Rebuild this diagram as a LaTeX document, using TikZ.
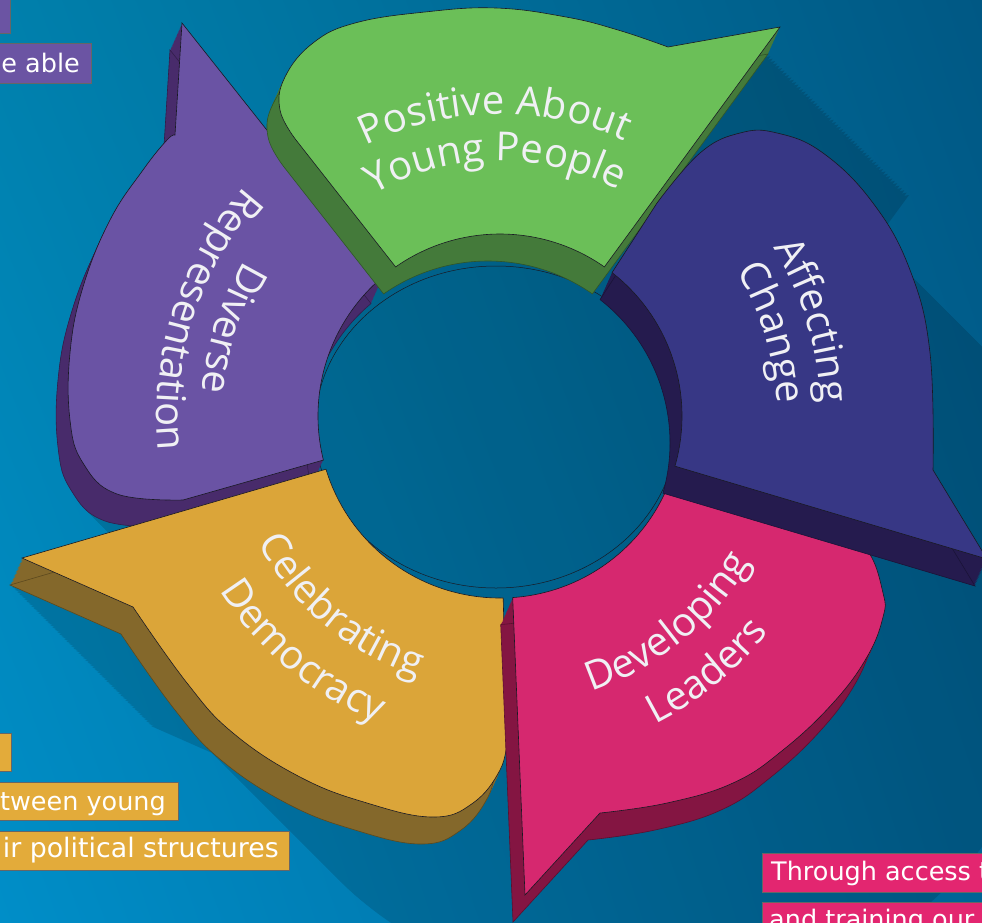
\documentclass[tikz,border=0pt]{standalone}
\usepackage{fontspec}
\setmainfont{Open Sans}
\newfontfamily\boxfont{DejaVu Sans}
\usetikzlibrary{decorations.text,shadings}
\definecolor{bgUL}{RGB}{0,128,172}
\definecolor{bgUR}{RGB}{0,88,132}
\definecolor{bgLL}{RGB}{0,142,200}
\definecolor{bgLR}{RGB}{0,100,150}
\definecolor{purpleF}{RGB}{106,83,164}
\definecolor{purpleD}{RGB}{72,43,107}
\definecolor{greenF}{RGB}{107,191,88}
\definecolor{greenD}{RGB}{68,122,58}
\definecolor{blueF}{RGB}{55,55,133}
\definecolor{blueD}{RGB}{37,27,78}
\definecolor{pinkF}{RGB}{214,40,111}
\definecolor{pinkD}{RGB}{132,21,66}
\definecolor{orangeF}{RGB}{219,165,57}
\definecolor{orangeD}{RGB}{132,104,43}
\definecolor{boxpurple}{RGB}{107,84,163}
\definecolor{boxorange}{RGB}{227,171,58}
\definecolor{boxpink}{RGB}{227,38,112}
\definecolor{labelwhite}{RGB}{240,240,244}
\definecolor{edge}{RGB}{25,25,35}
\newcommand\arcfont{\fontsize{40}{40}\selectfont\color{labelwhite}}
\tikzset{
  arctext/.style={decorate,decoration={text along path,text align=center,text={|\arcfont|#1}}},
  outline/.style={draw=edge,line width=0.6pt},
  boxframe/.style={draw=black!60,line width=0.7pt},
  boxtext/.style={font=\boxfont\fontsize{25.5}{30}\selectfont,text=white,inner sep=0pt},
}
\def\purplepath{([shift={(500,416)}]-130:182) arc[start angle=-130,end angle=-194,radius=182] -- (183,500) -- plot[smooth,tension=0.7] coordinates {(183,500) (117,494) (83,463) (70,420) (70,353) (83,287) (110,220) (143,170) (167,140) (175,135)} -- (182,23) -- cycle}
\def\greenpath{([shift={(500,416)}]-125:182) arc[start angle=-125,end angle=-55,radius=182] -- (780,27) -- (668,47) -- plot[smooth,tension=0.7] coordinates {(668,47) (618,30) (566,17) (496,8) (425,12) (355,23) (313,43) (285,77) (280,110) (296,140)} -- cycle}
\def\bluepath{([shift={(500,416)}]-52:182) arc[start angle=-52,end angle=16,radius=182] -- (987,559) -- (933,470) -- plot[smooth,tension=0.7] coordinates {(933,470) (930,353) (910,270) (873,203) (823,153) (777,133) (740,133) (700,153) (657,203)} -- cycle}
\def\pinkpath{([shift={(500,416)}]86:182) arc[start angle=86,end angle=20,radius=182] -- (833,527) -- plot[smooth,tension=0.7] coordinates {(833,527) (867,550) (883,593) (883,617) (867,657) (833,703) (783,750) (733,783) (667,803) (600,813)} -- (525,895) -- cycle}
\def\orangepath{([shift={(500,416)}]163:182) arc[start angle=163,end angle=89,radius=182] -- (507,740) -- plot[smooth,tension=0.7] coordinates {(507,740) (500,770) (473,803) (433,817) (367,803) (300,777) (233,733) (187,683) (133,607)} -- (22,558) -- cycle}
\def\holedisc{(500,416) circle[radius=192]}
\def\gapfill{(665,468) -- (987,552) -- (987,580) -- (833,540) -- (665,500) -- cycle}
\newcommand\drawpiece[3]{%
  \foreach \i in {1,...,20}{\fill[#3,shift={(-0.6*\i,1.35*\i)}] #1;}
  \draw[#3!70!black,line width=0.6pt,shift={(-12,27)}] #1;
  \fill[#2] #1;
  \draw[outline] #1;
}
\begin{document}
\begin{tikzpicture}[x=1pt,y=-1pt]
\useasboundingbox (0,0) rectangle (982,922);
\clip (0,0) rectangle (982,922);
\shade[upper left=bgUL,upper right=bgUR,lower left=bgLL,lower right=bgLR] (0,0) rectangle (982,922);
% cast shadow
\begin{scope}[transparency group,opacity=0.14]
\foreach \i in {0,...,60}{
  \begin{scope}[shift={(-12+2.35*\i,27+2.35*\i)}]
  \fill[black] \purplepath;
  \fill[black] \greenpath;
  \fill[black] \orangepath;
  \fill[black] \pinkpath;
  \fill[black] \bluepath;
  \fill[black] \holedisc;
  \fill[black] \gapfill;
  \end{scope}
}
\end{scope}
% base outline of the hole
\draw[edge,line width=0.5pt] (496,427) ellipse[x radius=181,y radius=161];
% pieces
\drawpiece{\purplepath}{purpleF}{purpleD}
\drawpiece{\greenpath}{greenF}{greenD}
\drawpiece{\orangepath}{orangeF}{orangeD}
\drawpiece{\pinkpath}{pinkF}{pinkD}
\drawpiece{\bluepath}{blueF}{blueD}
% labels on arcs
\path[arctext={Positive About}] ([shift={(500,416)}]-136:302) arc[start angle=-136,end angle=-46,radius=302];
\path[arctext={Young People}] ([shift={(500,416)}]-136:255) arc[start angle=-136,end angle=-46,radius=255];
\path[arctext={Affecting}] ([shift={(500,416)}]-62:321) arc[start angle=-62,end angle=28,radius=321];
\path[arctext={Change}] ([shift={(500,416)}]-62:277) arc[start angle=-62,end angle=28,radius=277];
\path[arctext={Diverse}] ([shift={(500,416)}]-117:299) arc[start angle=-117,end angle=-207,radius=299];
\path[arctext={Representation}] ([shift={(500,416)}]-117:343) arc[start angle=-117,end angle=-207,radius=343];
\path[arctext={Celebrating}] ([shift={(500,416)}]175:273) arc[start angle=175,end angle=85,radius=273];
\path[arctext={Democracy}] ([shift={(500,416)}]175:330) arc[start angle=175,end angle=85,radius=330];
\path[arctext={Developing}] ([shift={(500,416)}]96:290) arc[start angle=96,end angle=6,radius=290];
\path[arctext={Leaders}] ([shift={(500,416)}]96:345) arc[start angle=96,end angle=6,radius=345];
% side text boxes
\path[boxframe,fill=boxpurple] (-5,-5) rectangle (10,33);
\path[boxframe,fill=boxpurple] (-5,43) rectangle (91,83);
\node[boxtext,anchor=base east] (tA) at (80,72) {e able};
\path[boxframe,fill=boxorange] (-5,733) rectangle (11,771);
\path[boxframe,fill=boxorange] (-5,782) rectangle (178,820);
\node[boxtext,anchor=base east] (tB) at (166,810) {tween young};
\path[boxframe,fill=boxorange] (-5,831) rectangle (289,870);
\node[boxtext,anchor=base east,font=\boxfont\fontsize{26.8}{30}\selectfont] (tC) at (279,857) {ir political structures};
\path[boxframe,fill=boxpink] (762,853) rectangle (990,892);
\node[boxtext,anchor=base west] (tD) at (771,880) {Through access t};
\path[boxframe,fill=boxpink] (762,902) rectangle (990,940);
\node[boxtext,anchor=base west] (tE) at (769,928) {and training our};
\end{tikzpicture}
\end{document}
